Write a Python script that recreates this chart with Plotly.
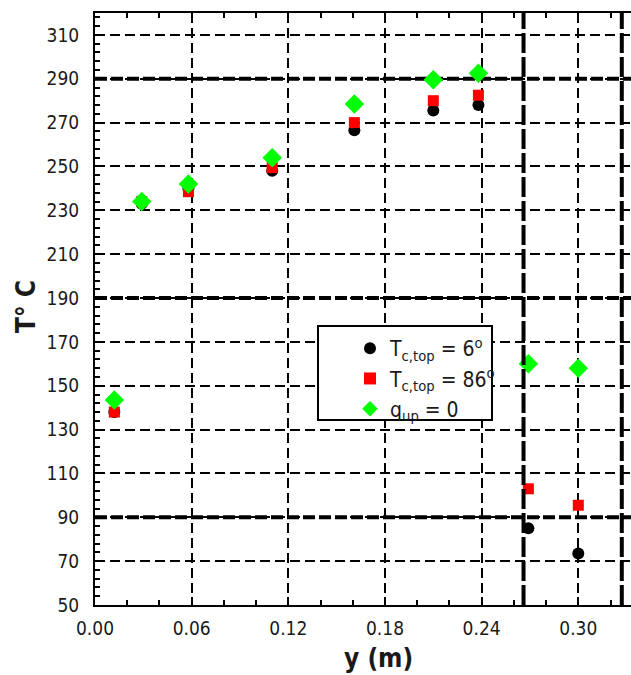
import plotly.graph_objects as go

# Measurement positions along the channel (m)
y_pos = [0.012, 0.029, 0.058, 0.110, 0.161, 0.210, 0.238, 0.269, 0.300]

# Temperatures (deg C) for the three boundary conditions
t_ctop_6 = [138, 233, 240, 248, 266.5, 275.5, 278, 85, 73.5]
t_ctop_86 = [138, 234, 238.5, 249.5, 270, 280, 282.5, 103, 95.5]
t_qup_0 = [143.5, 234, 242, 254, 278.5, 289.5, 292.5, 160, 158]

x_ticks = [0.00, 0.06, 0.12, 0.18, 0.24, 0.30]
y_ticks = list(range(50, 311, 20))

# Heavier reference lines
thick_h = [90, 190, 290]
thick_v = [0.266, 0.327]

FONT = "DejaVu Sans Condensed, Liberation Sans Narrow, Arial Narrow, Liberation Sans, sans-serif"
INK = "#1a1a1a"

fig = go.Figure()
fig.add_trace(go.Scatter(
    x=y_pos, y=t_ctop_6, mode="markers", name="T<sub>c,top</sub> = 6<sup>o</sup>",
    marker=dict(symbol="circle", size=12, color="black", line=dict(width=0))))
fig.add_trace(go.Scatter(
    x=y_pos, y=t_ctop_86, mode="markers", name="T<sub>c,top</sub> = 86<sup>o</sup>",
    marker=dict(symbol="square", size=11, color="#ff0000", line=dict(width=0))))
fig.add_trace(go.Scatter(
    x=y_pos, y=t_qup_0, mode="markers", name="q<sub>up</sub> = 0",
    marker=dict(symbol="diamond", size=15, color="#00ff00", line=dict(width=0))))

shapes = []
for v in thick_h:
    shapes.append(dict(type="line", xref="paper", x0=0, x1=1, yref="y", y0=v, y1=v,
                       line=dict(color="black", width=4, dash="12px,4px"), layer="below"))
for v in thick_v:
    shapes.append(dict(type="line", xref="x", x0=v, x1=v, yref="paper", y0=0, y1=1,
                       line=dict(color="black", width=4, dash="20px,4px"), layer="above"))
# legend frame
shapes.append(dict(type="rect", xref="paper", yref="paper",
                   x0=(318 - 95) / 536, x1=(492 - 95) / 536,
                   y0=(605 - 420) / 592, y1=(605 - 326) / 592,
                   line=dict(color="black", width=2), fillcolor="white", layer="above"))

fig.update_layout(
    width=631, height=675,
    margin=dict(l=95, r=0, t=13, b=70),
    paper_bgcolor="white", plot_bgcolor="white",
    showlegend=True,
    legend=dict(x=(350 - 95) / 536, y=(605 - 328) / 592, xanchor="left", yanchor="top",
                bgcolor="rgba(0,0,0,0)", borderwidth=0,
                font=dict(family=FONT, size=21, color=INK),
                itemsizing="constant", tracegroupgap=0),
    shapes=shapes,
    annotations=[
        dict(text="<b>y (m)</b>", xref="paper", yref="paper", x=(378 - 95) / 536, y=(605 - 658) / 592,
             showarrow=False, font=dict(family=FONT, size=26, color=INK), xanchor="center", yanchor="middle"),
        dict(text="<b>T° C</b>", xref="paper", yref="paper", x=(26 - 95) / 536, y=(605 - 307) / 592,
             showarrow=False, textangle=-90, font=dict(family=FONT, size=26, color=INK),
             xanchor="center", yanchor="middle"),
    ],
)

fig.update_xaxes(
    range=[0, (631 - 95) / 1611], tickvals=x_ticks, tickformat=".2f",
    showline=True, linecolor="black", linewidth=2, mirror="ticks",
    ticks="inside", ticklen=8, tickwidth=2, tickcolor="black",
    minor=dict(dtick=0.02, tick0=0, ticks="inside", ticklen=5, tickwidth=2, tickcolor="black", showgrid=False),
    showgrid=True, gridcolor="black", gridwidth=2, griddash="10px,5px",
    zeroline=False, tickfont=dict(family=FONT, size=19, color=INK), ticklabelstandoff=5,
)
fig.update_yaxes(
    range=[50, 320], tickvals=y_ticks,
    showline=True, linecolor="black", linewidth=2, mirror=False,
    ticks="inside", ticklen=6, tickwidth=2, tickcolor="black",
    minor=dict(dtick=4, tick0=50, ticks="inside", ticklen=5, tickwidth=2, tickcolor="black", showgrid=False),
    showgrid=True, gridcolor="black", gridwidth=2, griddash="10px,5px",
    zeroline=False, tickfont=dict(family=FONT, size=19, color=INK), ticklabelstandoff=10,
)

fig.write_html("out.html")
